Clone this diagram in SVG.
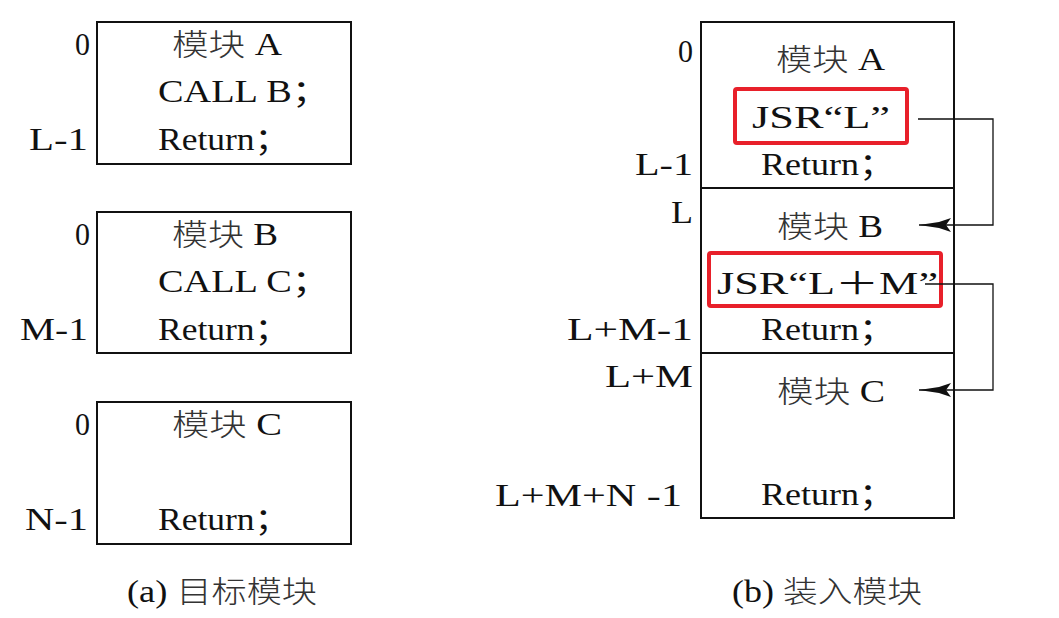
<svg xmlns="http://www.w3.org/2000/svg" width="1059" height="618" viewBox="0 0 1059 618">
<style>
text{font-family:"Liberation Serif","Noto Sans CJK SC",serif;font-size:31px;fill:#111}
.cjk{font-family:"Noto Sans CJK SC","Liberation Serif",sans-serif;font-weight:300;fill:#333;font-size:30px}
.box{fill:none;stroke:#111;stroke-width:2}
.red{fill:none;stroke:#e8202a;stroke-width:4}
.conn{fill:none;stroke:#111;stroke-width:1.3}
</style>
<defs>
<marker id="ah" markerUnits="userSpaceOnUse" viewBox="0 -7 34 14" refX="32" refY="0" markerWidth="34" markerHeight="14" orient="auto">
<path d="M32,0 L12,-3 L0,-7 L5,0 L0,7 L12,3 Z" fill="#111"/>
</marker>
</defs>

<g id="targetA">
<rect class="box" x="97" y="22" width="254" height="142"/>
<text x="75" y="55" textLength="15" lengthAdjust="spacingAndGlyphs">0</text>
<text x="29" y="150" textLength="59" lengthAdjust="spacingAndGlyphs">L-1</text>
<text x="172" y="55" textLength="110" lengthAdjust="spacingAndGlyphs"><tspan class="cjk">模块</tspan> A</text>
<text x="158" y="102" textLength="172" lengthAdjust="spacingAndGlyphs">CALL B；</text>
<text x="158" y="150" textLength="132" lengthAdjust="spacingAndGlyphs">Return；</text>
</g>

<g id="targetB">
<rect class="box" x="97" y="212" width="254" height="141"/>
<text x="75" y="245" textLength="15" lengthAdjust="spacingAndGlyphs">0</text>
<text x="20" y="340" textLength="68" lengthAdjust="spacingAndGlyphs">M-1</text>
<text x="172" y="245" textLength="106" lengthAdjust="spacingAndGlyphs"><tspan class="cjk">模块</tspan> B</text>
<text x="158" y="292" textLength="172" lengthAdjust="spacingAndGlyphs">CALL C；</text>
<text x="158" y="340" textLength="132" lengthAdjust="spacingAndGlyphs">Return；</text>
</g>

<g id="targetC">
<rect class="box" x="97" y="402" width="254" height="142"/>
<text x="75" y="435" textLength="15" lengthAdjust="spacingAndGlyphs">0</text>
<text x="25" y="530" textLength="63" lengthAdjust="spacingAndGlyphs">N-1</text>
<text x="172" y="435" textLength="110" lengthAdjust="spacingAndGlyphs"><tspan class="cjk">模块</tspan> C</text>
<text x="158" y="530" textLength="132" lengthAdjust="spacingAndGlyphs">Return；</text>
</g>

<text id="captionA" x="127" y="602" textLength="190" lengthAdjust="spacingAndGlyphs">(a) <tspan class="cjk">目标模块</tspan></text>

<g id="loadA">
<rect class="box" x="701" y="22" width="253" height="166"/>
<text x="678" y="62" textLength="15" lengthAdjust="spacingAndGlyphs">0</text>
<text x="635" y="175" textLength="58" lengthAdjust="spacingAndGlyphs">L-1</text>
<text x="776" y="70" textLength="109" lengthAdjust="spacingAndGlyphs"><tspan class="cjk">模块</tspan> A</text>
<rect class="red" x="735" y="89" width="172" height="54" rx="2"/>
<text x="752" y="128" textLength="138" lengthAdjust="spacingAndGlyphs">JSR“L”</text>
<text x="761" y="175" textLength="134" lengthAdjust="spacingAndGlyphs">Return；</text>
</g>

<g id="loadB">
<rect class="box" x="701" y="188" width="253" height="165"/>
<text x="671" y="223" textLength="22" lengthAdjust="spacingAndGlyphs">L</text>
<text x="567" y="340" textLength="126" lengthAdjust="spacingAndGlyphs">L+M-1</text>
<text x="777" y="237" textLength="106" lengthAdjust="spacingAndGlyphs"><tspan class="cjk">模块</tspan> B</text>
<rect class="red" x="709" y="253" width="232" height="53" rx="2"/>
<text x="717" y="294" textLength="221" lengthAdjust="spacingAndGlyphs">JSR“L＋M”</text>
<text x="761" y="340" textLength="134" lengthAdjust="spacingAndGlyphs">Return；</text>
</g>

<g id="loadC">
<rect class="box" x="701" y="353" width="253" height="165"/>
<text x="605" y="387" textLength="88" lengthAdjust="spacingAndGlyphs">L+M</text>
<text x="495" y="506" textLength="187" lengthAdjust="spacingAndGlyphs">L+M+N -1</text>
<text x="777" y="402" textLength="108" lengthAdjust="spacingAndGlyphs"><tspan class="cjk">模块</tspan> C</text>
<text x="761" y="505" textLength="134" lengthAdjust="spacingAndGlyphs">Return；</text>
</g>

<text id="captionB" x="732" y="602" textLength="190" lengthAdjust="spacingAndGlyphs">(b) <tspan class="cjk">装入模块</tspan></text>

<g id="connectors">
<path class="conn" d="M918,119 H993 V225 H919" marker-end="url(#ah)"/>
<path class="conn" d="M925,284 H993 V390 H919" marker-end="url(#ah)"/>
</g>
</svg>
